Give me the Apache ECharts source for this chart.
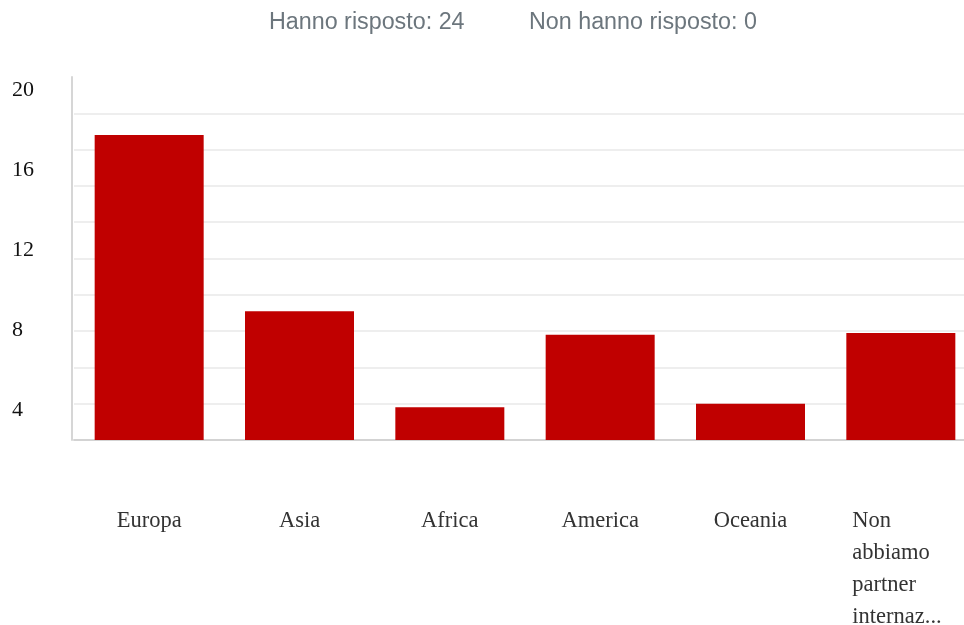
<!DOCTYPE html>
<html>
<head>
<meta charset="utf-8">
<style>
  html, body { margin: 0; padding: 0; background: #ffffff; }
  #chart { width: 964px; height: 625px; }
</style>
<script src="https://cdn.jsdelivr.net/npm/echarts@6/dist/echarts.min.js"></script>
</head>
<body>
<div id="chart"></div>
<script>
// ---- data ----
const headerTexts = ['Hanno risposto: 24', 'Non hanno risposto: 0'];
const categories = ['Europa', 'Asia', 'Africa', 'America', 'Oceania', 'Non abbiamo partner internaz...'];
const categoryLabels = ['Europa', 'Asia', 'Africa', 'America', 'Oceania', 'Non\nabbiamo\npartner\ninternaz...'];
const values = [16.8, 7.1, 1.8, 5.8, 2.0, 5.9];
const yTickLabels = [4, 8, 12, 16, 20];

const chart = echarts.init(document.getElementById('chart'), null, { renderer: 'canvas' });

const serif = "'Liberation Serif', 'DejaVu Serif', serif";
const sans = "'Liberation Sans', Arial, sans-serif";

const option = {
  animation: false,
  backgroundColor: '#ffffff',
  title: [
    { text: headerTexts[0], left: 269, top: 11, padding: 0,
      textStyle: { fontFamily: sans, fontSize: 23.3, fontWeight: 'normal', color: '#6c767d' } },
    { text: headerTexts[1], left: 529, top: 11, padding: 0,
      textStyle: { fontFamily: sans, fontSize: 23.3, fontWeight: 'normal', color: '#6c767d' } }
  ],
  grid: { left: 74, top: 77, width: 902, bottom: 185, containLabel: false, outerBoundsMode: 'none' },
  xAxis: {
    type: 'category',
    data: categories,
    axisLine: { show: true, lineStyle: { color: '#d3d3d3', width: 2 } },
    axisTick: { show: false },
    axisLabel: {
      interval: 0,
      margin: 65,
      fontFamily: serif,
      fontSize: 22.5,
      lineHeight: 32,
      color: '#333333',
      formatter: function (v, i) {
        const lbl = categoryLabels[i];
        if (lbl.indexOf('\n') >= 0) return '{l|' + lbl + '}';
        return lbl;
      },
      rich: {
        l: { width: 97, align: 'left', fontFamily: serif, fontSize: 22.5, lineHeight: 32, color: '#333333' }
      }
    }
  },
  yAxis: [
    {
      type: 'value',
      min: 0, max: 20, interval: 2,
      offset: 2,
      axisLine: { show: true, lineStyle: { color: '#d6d6d6', width: 2 } },
      axisTick: { show: false },
      axisLabel: { show: false },
      splitLine: { show: true, showMaxLine: false, lineStyle: { color: '#eeeeee', width: 2 } }
    },
    {
      type: 'value',
      position: 'left',
      min: 2.515, max: 20.665,
      axisLine: { show: false },
      axisTick: { show: false },
      splitLine: { show: false },
      axisLabel: {
        show: true,
        customValues: yTickLabels,
        align: 'left',
        margin: 62,
        fontFamily: serif,
        fontSize: 22,
        color: function (v) { return v === 4 ? '#465160' : '#111111'; }
      }
    }
  ],
  series: [
    {
      type: 'bar',
      yAxisIndex: 0,
      data: values,
      barWidth: 109,
      itemStyle: { color: '#c00000' }
    }
  ]
};

chart.setOption(option);
</script>
</body>
</html>
